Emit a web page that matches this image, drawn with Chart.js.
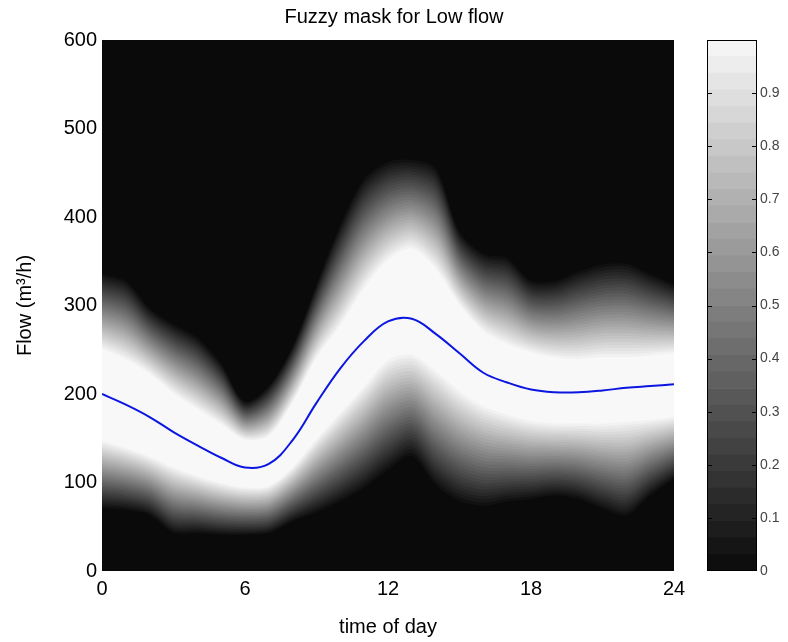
<!DOCTYPE html>
<html>
<head>
<meta charset="utf-8">
<title>Fuzzy mask for Low flow</title>
<script src="https://cdn.jsdelivr.net/npm/chart.js@4.4.1/dist/chart.umd.min.js"></script>
<style>
  html, body { margin: 0; padding: 0; background: #fff; }
  #wrap { position: relative; width: 788px; height: 642px; }
  #maskChart { position: absolute; left: 0; top: 0; }
  #barChart { position: absolute; left: 700px; top: 0; }
</style>
</head>
<body>
<div id="wrap">
  <canvas id="maskChart" width="788" height="642"></canvas>
  <canvas id="barChart" width="88" height="642"></canvas>
</div>
<script>
// values, one per hour
const hours = [0, 1, 2, 3, 4, 5, 6, 7, 8, 9, 10, 11, 12, 13, 14, 15, 16, 17, 18, 19, 20, 21, 22, 23, 24];
const flowCenter = [200, 188, 174, 157, 142, 128, 117, 121, 148, 190, 229, 260, 282, 285, 268, 246, 224, 213, 205, 202, 202, 204, 207, 209, 211];
// white core of the mask (membership ~1)
const upperCore = [250, 238, 222, 200, 182, 165, 148, 152, 190, 240, 276, 318, 350, 363, 340, 300, 270, 255, 246, 240, 238, 240, 240, 242, 245];
const lowerCore = [148, 140, 130, 118, 108, 100, 95, 97, 118, 150, 180, 210, 240, 246, 228, 205, 188, 178, 171, 168, 168, 168, 170, 172, 175];
// outer edge of the glow (membership ~0)
const upperEdge = [337, 329, 298, 280, 265, 235, 192, 210, 255, 325, 393, 445, 464, 466, 457, 385, 360, 355, 329, 329, 340, 348, 349, 337, 325];
const lowerEdge = [70, 68, 62, 42, 42, 40, 40, 42, 55, 65, 77, 92, 112, 128, 95, 77, 72, 77, 80, 84, 80, 69, 61, 84, 103];

const xTicks = [0, 6, 12, 18, 24];
const yTicks = [0, 100, 200, 300, 400, 500, 600];
const barTicks = [0, 0.1, 0.2, 0.3, 0.4, 0.5, 0.6, 0.7, 0.8, 0.9];

const FONT = '"Liberation Sans", Arial, sans-serif';
const LEVELS = 32;

function grey(v) {
    const g = Math.round(10 + v * 238);
    return `rgb(${g},${g},${g})`;
}

// alpha cuts: each level is a filled band between its upper and lower bound,
// the mask falls off linearly from the core to the edge
const datasets = [{
    data: hours.map((h, i) => ({ x: h, y: flowCenter[i] })),
    borderColor: '#0b16e0', borderWidth: 2, pointRadius: 0, tension: 0.4, fill: false
}];
for (let k = LEVELS; k >= 1; k--) {
    const r = 1 - (k - 0.5) / LEVELS;
    const topIdx = datasets.length;
    datasets.push({
        data: hours.map((h, i) => ({ x: h, y: upperCore[i] + r * (upperEdge[i] - upperCore[i]) })),
        fill: topIdx + 1, backgroundColor: grey(k / LEVELS),
        borderWidth: 0, borderColor: 'transparent', pointRadius: 0, tension: 0.3
    });
    datasets.push({
        data: hours.map((h, i) => ({ x: h, y: lowerCore[i] - r * (lowerCore[i] - lowerEdge[i]) })),
        fill: false, borderWidth: 0, borderColor: 'transparent', pointRadius: 0, tension: 0.3
    });
}

const plotBackdrop = {
    id: 'plotBackdrop',
    beforeDatasetsDraw(chart) {
        const { ctx, chartArea: a } = chart;
        ctx.save();
        ctx.fillStyle = grey(0);
        ctx.fillRect(a.left, a.top, a.width, a.height);
        ctx.restore();
    }
};

const tickFont = { family: FONT, size: 20 };

new Chart(document.getElementById('maskChart'), {
    type: 'line',
    data: { datasets: datasets },
    options: {
        responsive: false,
        animation: false,
        devicePixelRatio: 1,
        layout: { padding: 0 },
        plugins: {
            legend: { display: false },
            tooltip: { enabled: false },
            title: {
                display: true, text: 'Fuzzy mask for Low flow', color: '#000',
                font: { family: FONT, size: 20, weight: 'normal' },
                padding: { top: 5, bottom: 11 }
            }
        },
        scales: {
            x: {
                type: 'linear', min: 0, max: 24,
                afterBuildTicks: s => { s.ticks = xTicks.map(v => ({ value: v })); },
                afterFit: s => { s.height = 71; },
                grid: { display: false, drawTicks: false }, border: { display: false },
                ticks: { font: tickFont, color: '#000', padding: 6, maxRotation: 0 },
                title: { display: true, text: 'time of day', color: '#000', font: tickFont, padding: { top: 0, bottom: 3 } }
            },
            y: {
                type: 'linear', min: 0, max: 600,
                afterBuildTicks: s => { s.ticks = yTicks.map(v => ({ value: v })); },
                afterFit: s => { s.width = 102; },
                grid: { display: false, drawTicks: false }, border: { display: false },
                ticks: { font: tickFont, color: '#000', padding: 5 },
                title: { display: true, text: 'Flow (m³/h)', color: '#000', font: tickFont, padding: { top: 13, bottom: 0 } }
            },
            // empty right-hand gutter where the colour bar sits
            gutter: {
                type: 'linear', position: 'right', min: 0, max: 1,
                afterFit: s => { s.width = 114; },
                ticks: { display: false }, grid: { display: false, drawTicks: false }, border: { display: false }
            }
        }
    },
    plugins: [plotBackdrop]
});

// colour bar: stacked grey steps from 0 to 1
const barSets = [];
for (let k = 0; k < LEVELS; k++) {
    barSets.push({
        data: [1 / LEVELS], backgroundColor: grey((k + 0.5) / LEVELS),
        borderWidth: 0, barPercentage: 1, categoryPercentage: 1
    });
}

const barFrame = {
    id: 'barFrame',
    afterDatasetsDraw(chart) {
        const { ctx, chartArea: a, scales: { y } } = chart;
        ctx.save();
        ctx.strokeStyle = '#000';
        ctx.lineWidth = 1;
        ctx.strokeRect(a.left + 0.5, a.top + 0.5, a.width - 1, a.height - 1);
        barTicks.forEach(v => {
            if (v === 0) return;
            const py = Math.round(y.getPixelForValue(v)) + 0.5;
            ctx.beginPath();
            ctx.moveTo(a.left, py); ctx.lineTo(a.left + 5, py);
            ctx.moveTo(a.right - 5, py); ctx.lineTo(a.right, py);
            ctx.stroke();
        });
        ctx.restore();
    }
};

new Chart(document.getElementById('barChart'), {
    type: 'bar',
    data: { labels: [''], datasets: barSets },
    options: {
        responsive: false,
        animation: false,
        devicePixelRatio: 1,
        layout: { padding: { left: 7, right: 0, top: 40, bottom: 71 } },
        plugins: { legend: { display: false }, tooltip: { enabled: false } },
        scales: {
            x: { stacked: true, display: false },
            y: {
                stacked: true, position: 'right', min: 0, max: 1,
                afterBuildTicks: s => { s.ticks = barTicks.map(v => ({ value: v })); },
                afterFit: s => { s.width = 31; },
                grid: { display: false, drawTicks: false }, border: { display: false },
                ticks: { font: { family: FONT, size: 14 }, color: '#444', padding: 3, callback: v => String(v) }
            }
        }
    },
    plugins: [barFrame]
});
</script>
</body>
</html>
